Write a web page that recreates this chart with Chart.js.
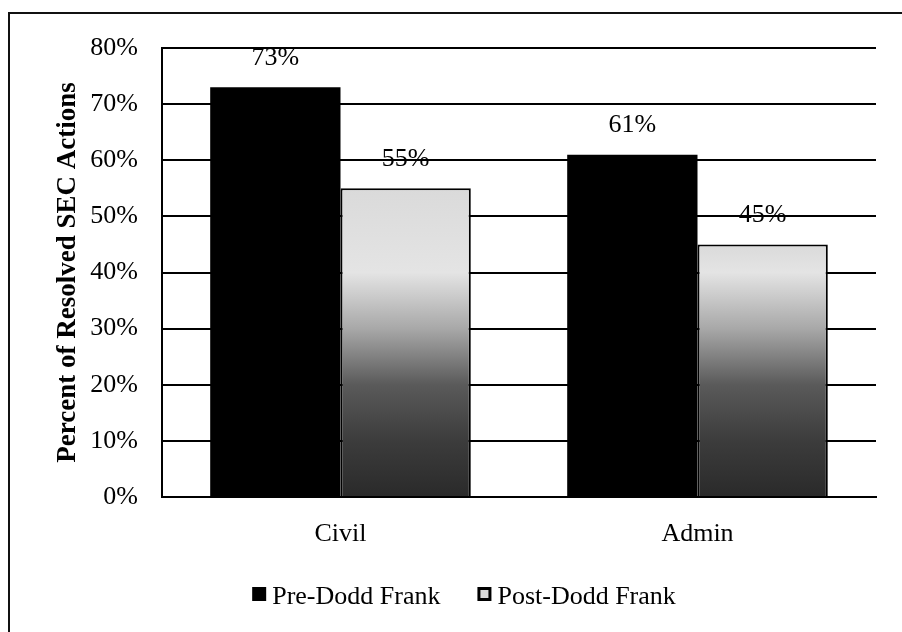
<!DOCTYPE html>
<html>
<head>
<meta charset="utf-8">
<script src="https://cdn.jsdelivr.net/npm/chart.js@4.4.0/dist/chart.umd.min.js"></script>
<style>
  html, body { margin: 0; padding: 0; background: #fff; }
  #wrap { position: relative; width: 902px; height: 632px; }
  #frameTop { position: absolute; left: 8px; top: 12px; width: 894px; height: 2px; background: #111; }
  #frameLeft { position: absolute; left: 8px; top: 12px; width: 2px; height: 620px; background: #111; }
  canvas { position: absolute; left: 0; top: 0; }
</style>
</head>
<body>
<div id="wrap">
  <canvas id="c" width="902" height="632"></canvas>
  <div id="frameTop"></div>
  <div id="frameLeft"></div>
</div>
<script>
const categories = ["Civil", "Admin"];
const seriesNames = ["Pre-Dodd Frank", "Post-Dodd Frank"];
const preDoddFrank = [73, 61];
const postDoddFrank = [55, 45];
const yTicks = [0, 10, 20, 30, 40, 50, 60, 70, 80];
const yTitle = "Percent of Resolved SEC Actions";

const SERIF = "'Liberation Serif', 'Times New Roman', serif";
const FONT_SIZE = 26;

function postGradient(ctx) {
  const chart = ctx.chart;
  if (!chart.chartArea || ctx.raw === undefined) return '#cccccc';
  const y = chart.scales.y;
  const top = y.getPixelForValue(ctx.raw);
  const bottom = y.getPixelForValue(0);
  const g = chart.ctx.createLinearGradient(0, bottom, 0, top);
  const v = ctx.raw;
  g.addColorStop(0, '#2a2a2a');
  g.addColorStop(Math.min(1, 10 / v), '#3c3c3c');
  g.addColorStop(Math.min(1, 20 / v), '#5a5a5a');
  g.addColorStop(Math.min(1, 30 / v), '#a8a8a8');
  g.addColorStop(Math.min(1, 40 / v), '#e4e4e4');
  g.addColorStop(1, '#dadada');
  return g;
}

const valueLabels = {
  id: 'valueLabels',
  afterDatasetsDraw(chart) {
    const ctx = chart.ctx;
    ctx.save();
    ctx.font = FONT_SIZE + "px " + SERIF;
    ctx.fillStyle = '#000';
    ctx.textAlign = 'center';
    ctx.textBaseline = 'middle';
    chart.data.datasets.forEach((ds, i) => {
      chart.getDatasetMeta(i).data.forEach((bar, j) => {
        ctx.fillText(ds.data[j] + '%', bar.x, bar.y - 29);
      });
    });
    ctx.restore();
  }
};

// Legend drawn under the x axis (series names from the data arrays)
const bottomLegend = {
  id: 'bottomLegend',
  afterDraw(chart) {
    const ctx = chart.ctx;
    ctx.save();
    ctx.font = FONT_SIZE + "px " + SERIF;
    ctx.textBaseline = 'middle';
    ctx.textAlign = 'left';
    const box = 14, gapText = 6, gapItems = 37;
    const cy = chart.chartArea.bottom + 100;
    const widths = seriesNames.map(n => box + gapText + ctx.measureText(n).width);
    const total = widths.reduce((a, b) => a + b, 0) + gapItems;
    let x = (chart.chartArea.left + chart.chartArea.right) / 2 - 55 - total / 2;
    seriesNames.forEach((name, i) => {
      const by = cy - 10;
      ctx.fillStyle = '#000';
      ctx.fillRect(x, by, box, box);
      if (i === 1) {
        ctx.fillStyle = '#d8d8d8';
        ctx.fillRect(x + 3, by + 3, box - 6, box - 6);
      }
      ctx.fillStyle = '#000';
      ctx.fillText(name, x + box + gapText, cy);
      x += widths[i] + gapItems;
    });
    ctx.restore();
  }
};

new Chart(document.getElementById('c'), {
  type: 'bar',
  data: {
    labels: categories,
    datasets: [
      {
        label: seriesNames[0],
        data: preDoddFrank,
        backgroundColor: '#000000',
        borderColor: '#000000',
        borderWidth: 0
      },
      {
        label: seriesNames[1],
        data: postDoddFrank,
        backgroundColor: postGradient,
        borderColor: '#000000',
        borderWidth: 2,
        borderSkipped: 'bottom'
      }
    ]
  },
  options: {
    responsive: false,
    animation: false,
    devicePixelRatio: 1,
    layout: { padding: { left: 52, right: 26, top: 48, bottom: 75 } },
    datasets: { bar: { categoryPercentage: 0.73, barPercentage: 1.0 } },
    scales: {
      x: {
        grid: { display: false, drawTicks: false },
        border: { display: true, color: '#000', width: 2 },
        ticks: { color: '#000', font: { family: SERIF, size: FONT_SIZE }, padding: 22 },
        afterFit(scale) { scale.height = 60; }
      },
      y: {
        min: 0, max: 80,
        afterBuildTicks(scale) { scale.ticks = yTicks.map(v => ({ value: v })); },
        grid: { color: '#000', lineWidth: 2, drawTicks: false },
        border: { display: true, color: '#000', width: 2 },
        ticks: {
          color: '#000',
          font: { family: SERIF, size: FONT_SIZE },
          padding: 24,
          callback: v => v + '%'
        },
        title: {
          display: true,
          text: yTitle,
          color: '#000',
          font: { family: SERIF, size: 27, weight: 'bold' },
          padding: { top: 0, bottom: 0 }
        },
        afterFit(scale) { scale.width = 110; }
      }
    },
    plugins: {
      legend: { display: false },
      tooltip: { enabled: false }
    }
  },
  plugins: [valueLabels, bottomLegend]
});
</script>
</body>
</html>
